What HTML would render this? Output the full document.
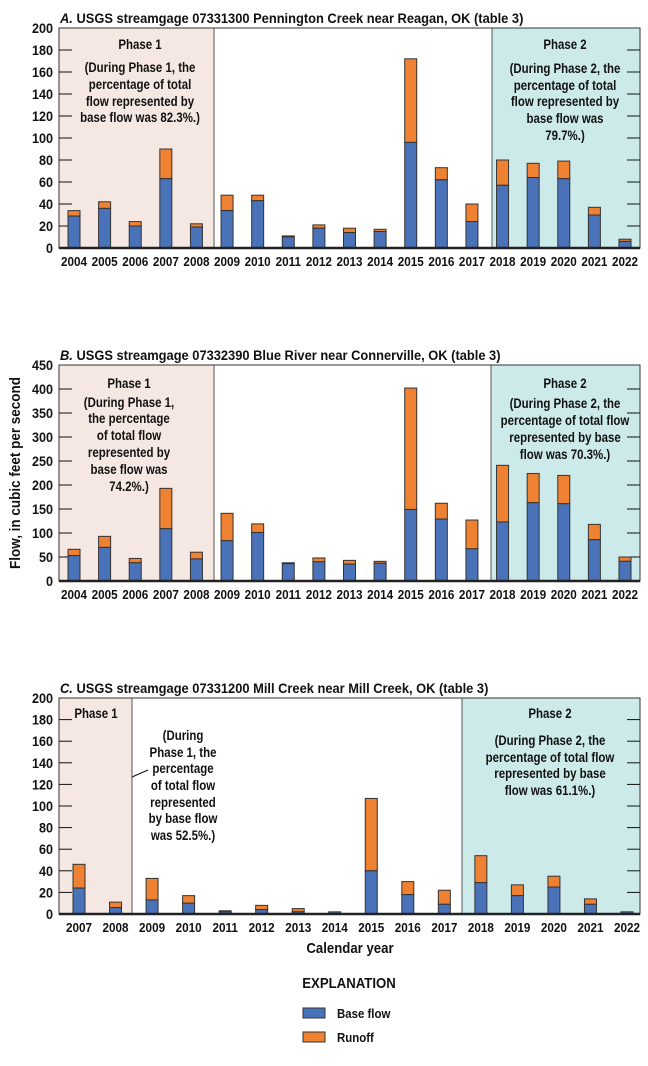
<!DOCTYPE html>
<html><head><meta charset="utf-8">
<style>
body{margin:0;background:#fff;}
svg{display:block;font-family:"Liberation Sans Narrow","Liberation Sans",sans-serif;font-weight:bold;}
</style></head>
<body>
<svg id="chart" width="648" height="1066" viewBox="0 0 648 1066" xmlns="http://www.w3.org/2000/svg">
<text transform="translate(20,473) rotate(-90) scale(0.9,1)" text-anchor="middle" font-size="15" fill="#111">Flow, in cubic feet per second</text>
<text transform="translate(350,953) scale(0.88,1)" text-anchor="middle" font-size="15" fill="#111">Calendar year</text>
<text transform="translate(349,988) scale(0.88,1)" text-anchor="middle" font-size="15" fill="#111">EXPLANATION</text>
<rect x="303" y="1008" width="22" height="10" fill="#4a72b8" stroke="#333" stroke-width="1"/>
<text transform="translate(337,1018) scale(0.88,1)" font-size="13" fill="#111">Base flow</text>
<rect x="303" y="1032" width="22" height="10" fill="#ef8133" stroke="#333" stroke-width="1"/>
<text transform="translate(337,1042) scale(0.88,1)" font-size="13" fill="#111">Runoff</text>
</svg>
<script>
const yearsA = [2004,2005,2006,2007,2008,2009,2010,2011,2012,2013,2014,2015,2016,2017,2018,2019,2020,2021,2022];
const baseA  = [29,36,20,63,19,34,43,10,18,14,15,96,62,24,57,64,63,30,6];
const totalA = [34,42,24,90,22,48,48,11,21,18,17,172,73,40,80,77,79,37,8];
const ticksA = [0,20,40,60,80,100,120,140,160,180,200];

const yearsB = [2004,2005,2006,2007,2008,2009,2010,2011,2012,2013,2014,2015,2016,2017,2018,2019,2020,2021,2022];
const baseB  = [53,70,38,109,46,84,101,36,40,35,37,149,129,67,123,163,161,86,41];
const totalB = [66,93,47,193,60,141,119,38,48,43,41,402,162,127,241,224,220,118,50];
const ticksB = [0,50,100,150,200,250,300,350,400,450];

const yearsC = [2007,2008,2009,2010,2011,2012,2013,2014,2015,2016,2017,2018,2019,2020,2021,2022];
const baseC  = [24,6,13,10,2,4,2,2,40,18,9,29,17,25,9,2];
const totalC = [46,11,33,17,3,8,5,2,107,30,22,54,27,35,14,2];
const ticksC = [0,20,40,60,80,100,120,140,160,180,200];

const NS="http://www.w3.org/2000/svg";
const svg=document.getElementById('chart');
function mk(tag,attrs,parent){const e=document.createElementNS(NS,tag);for(const k in attrs)e.setAttribute(k,attrs[k]);(parent||svg).appendChild(e);return e;}

function panel(cfg){
  const g=mk('g',{});
  
  
  const L=59,R=640,T=cfg.top,B=cfg.bottom,max=cfg.ticks[cfg.ticks.length-1];
  const y=v=>B-(v/max)*(B-T);
  const n=cfg.years.length;
  const x=i=>cfg.x0+(cfg.x1-cfg.x0)*i/(n-1);
  const p1=mk('rect',{x:L,y:T,width:cfg.p1-L,height:B-T,fill:'#f5e8e3',stroke:'#555','stroke-width':1},g);
  
  
  const p2=mk('rect',{x:cfg.p2,y:T,width:R-cfg.p2,height:B-T,fill:'#cdeaea',stroke:'#555','stroke-width':1},g);
  
  
  const fr=mk('rect',{x:L,y:T,width:R-L,height:B-T,fill:'none',stroke:'#333','stroke-width':1},g);
  
  
  cfg.ticks.forEach(t=>{
    const yy=y(t);
    if(t>0&&t<max){
      const a=mk('line',{x1:L,x2:L+13,y1:yy,y2:yy,stroke:'#111','stroke-width':1},g);
      
      
      const b=mk('line',{x1:R-13,x2:R,y1:yy,y2:yy,stroke:'#111','stroke-width':1},g);
      
      
    }
    const tl=mk('text',{transform:'translate(53,'+(yy+5)+') scale(0.9,1)','text-anchor':'end','font-size':14,fill:'#111'},g);
    
    
    tl.textContent=t;
  });
  cfg.years.forEach((yr,i)=>{
    const cx=x(i),w=12;
    const rb=mk('rect',{x:cx-w/2,y:y(cfg.total[i]),width:w,height:y(cfg.base[i])-y(cfg.total[i]),fill:'#ef8133',stroke:'#333','stroke-width':1},g);
    
    
    const bb=mk('rect',{x:cx-w/2,y:y(cfg.base[i]),width:w,height:B-y(cfg.base[i]),fill:'#4a72b8',stroke:'#333','stroke-width':1},g);
    
    
    const xl=mk('text',{transform:'translate('+cx+','+(B+18)+') scale(0.9,1)','text-anchor':'middle','font-size':13,fill:'#111'},g);
    
    
    xl.textContent=yr;
  });
  const base=mk('line',{x1:L,x2:R,y1:B,y2:B,stroke:'#222','stroke-width':2.5},g);
  
  
  const ti=mk('text',{transform:'translate(60,'+(T-5)+') scale(0.92,1)','font-size':14,fill:'#111'},g);
  
  
  ti.innerHTML='<tspan font-style="italic">'+cfg.letter+'</tspan> '+cfg.title;
  cfg.notes.forEach(nt=>{
    nt.lines.forEach((ln,k)=>{
      const t=mk('text',{transform:'translate('+nt.x+','+(nt.ys[k]+5)+') scale(0.85,1)','text-anchor':'middle','font-size':13.5,fill:'#111'},g);
      
      
      t.textContent=ln;
    });
  });
}

panel({name:'panel-a-pennington-creek',letter:'A.',title:'USGS streamgage 07331300 Pennington Creek near Reagan, OK (table 3)',
  top:28,bottom:248,ticks:ticksA,years:yearsA,base:baseA,total:totalA,x0:74,x1:625,p1:214,p2:492,
  notes:[{x:140,lines:['Phase 1','(During Phase 1, the','percentage of total','flow represented by','base flow was 82.3%.)'],ys:[44,67,84,101,117]},
         {x:565,lines:['Phase 2','(During Phase 2,  the','percentage of total','flow represented by','base flow was','79.7%.)'],ys:[44,68,85,101,118,135]}]});
panel({name:'panel-b-blue-river',letter:'B.',title:'USGS streamgage 07332390 Blue River near Connerville, OK (table 3)',
  top:365,bottom:581,ticks:ticksB,years:yearsB,base:baseB,total:totalB,x0:74,x1:625,p1:214,p2:491,
  notes:[{x:129,lines:['Phase 1','(During Phase 1,','the percentage','of total flow','represented by','base flow was','74.2%.)'],ys:[383,402,418,435,452,469,486]},
         {x:565,lines:['Phase 2','(During Phase 2, the','percentage of total flow','represented by base','flow was 70.3%.)'],ys:[383,403,420,437,454]}]});
panel({name:'panel-c-mill-creek',letter:'C.',title:'USGS streamgage 07331200 Mill Creek near Mill Creek, OK (table 3)',
  top:698,bottom:914,ticks:ticksC,years:yearsC,base:baseC,total:totalC,x0:79,x1:627,p1:132,p2:462,
  notes:[{x:96,lines:['Phase 1'],ys:[713]},
         {x:183,lines:['(During','Phase 1, the','percentage','of total flow','represented','by base flow','was 52.5%.)'],ys:[735,752,768,785,802,818,835]},
         {x:550,lines:['Phase 2','(During Phase 2, the','percentage of total flow','represented by base','flow was 61.1%.)'],ys:[713,740,757,773,790]}]});
const leader=mk('line',{x1:148,y1:770,x2:132,y2:777,stroke:'#111','stroke-width':1});


</script>
</body></html>
